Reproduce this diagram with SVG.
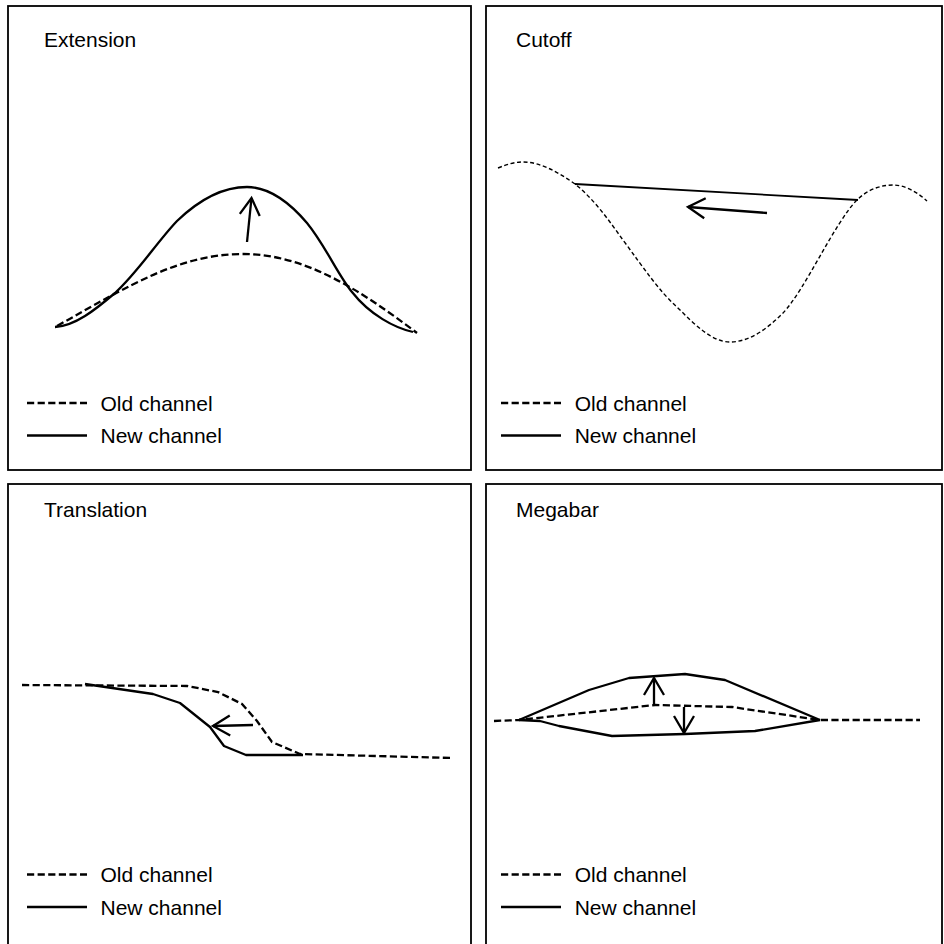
<svg xmlns="http://www.w3.org/2000/svg" width="944" height="944" viewBox="0 0 944 944">
<style>
text{font-family:"Liberation Sans",Arial,sans-serif;font-size:21px;fill:#000}
.frame{fill:#fff;stroke:#000;stroke-width:1.8}
.old{fill:none;stroke:#000;stroke-width:2.3;stroke-dasharray:7.2,3.4}
.oldf{fill:none;stroke:#000;stroke-width:1.4;stroke-dasharray:4,2.6}
.new{fill:none;stroke:#000;stroke-width:2.3;stroke-linejoin:round}
.newt{fill:none;stroke:#000;stroke-width:1.8;stroke-linejoin:round}
.arrow{fill:none;stroke:#000;stroke-width:2.3;marker-end:url(#arr)}
</style>
<defs>
<marker id="arr" markerUnits="userSpaceOnUse" markerWidth="30" markerHeight="30" viewBox="-22 -15 30 30" refX="0" refY="0" orient="auto" overflow="visible">
<path d="M-17,-10 L0,0 L-17,10" fill="none" stroke="#000" stroke-width="2.3" stroke-linejoin="miter"/>
</marker>
</defs>

<g id="extension">
<rect class="frame" x="8" y="6" width="463" height="464"/>
<text x="44" y="47">Extension</text>
<path class="old" d="M57,326 C130,285 180,254 243,254 C305,254 360,290 417,333"/>
<path class="new" d="M55,327 C75,326 95,310 115,293 C138,272 157,242 177,221 C203,196 225,187 247,187 C270,187 290,203 307,223 C325,245 338,275 352,292 C370,315 395,328 413,332"/>
<line class="arrow" x1="247" y1="242" x2="251.5" y2="198"/>
<line class="old" x1="27" y1="403" x2="87" y2="403"/>
<text x="100.5" y="411">Old channel</text>
<line class="new" x1="27" y1="435.5" x2="87" y2="435.5"/>
<text x="100.5" y="443">New channel</text>
</g>

<g id="cutoff">
<rect class="frame" x="486" y="6" width="456" height="464"/>
<text x="516" y="47">Cutoff</text>
<path class="oldf" d="M498,168 C508,164 515,162 523,162 C540,162 558,172 575,184 C595,200 610,222 623,240 C645,270 660,292 677,307 C695,325 712,342 730,342 C750,342 768,328 783,313 C805,290 835,222 857,200 C867,190 880,185 893,185 C905,185 917,192 927,201"/>
<line class="newt" x1="575" y1="184" x2="858" y2="200"/>
<line class="arrow" x1="767" y1="213" x2="688" y2="207"/>
<line class="old" x1="501" y1="403" x2="561" y2="403"/>
<text x="574.7" y="411">Old channel</text>
<line class="new" x1="501" y1="435.5" x2="561" y2="435.5"/>
<text x="574.7" y="443">New channel</text>
</g>

<g id="translation">
<rect class="frame" x="8" y="484" width="463" height="470"/>
<text x="44" y="517">Translation</text>
<polyline class="new" points="85,684 153,694 180,703 210,727 224,746 246,755 303,755"/>
<polyline class="old" points="22,685 187,686 218,692 242,704 257,721 272,742 300,754 452,758"/>
<line class="arrow" x1="253" y1="725" x2="213" y2="726"/>
<line class="old" x1="27" y1="874.5" x2="87" y2="874.5"/>
<text x="100.5" y="882">Old channel</text>
<line class="new" x1="27" y1="907" x2="87" y2="907"/>
<text x="100.5" y="914.5">New channel</text>
</g>

<g id="megabar">
<rect class="frame" x="486" y="484" width="456" height="470"/>
<text x="516" y="517">Megabar</text>
<polyline class="new" points="519,720 589,690 629,678 685,674 725,680 820,720"/>
<polyline class="new" points="519,720 540,721 559,726 612,736 685,734 755,731 820,720"/>
<polyline class="old" points="494,721 519,720 655,705 732,707 820,720 920,720"/>
<line class="arrow" x1="654" y1="705" x2="654" y2="678"/>
<line class="arrow" x1="684" y1="707" x2="684" y2="733"/>
<line class="old" x1="501" y1="874.5" x2="561" y2="874.5"/>
<text x="574.7" y="882">Old channel</text>
<line class="new" x1="501" y1="907" x2="561" y2="907"/>
<text x="574.7" y="914.5">New channel</text>
</g>
</svg>
